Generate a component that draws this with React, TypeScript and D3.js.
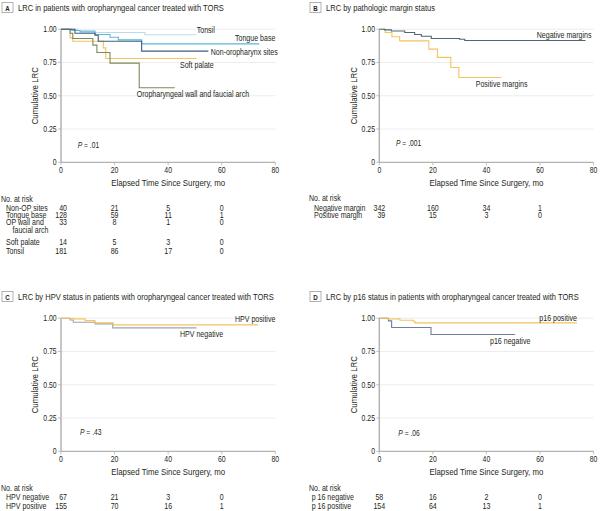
import React from "react";
import * as d3 from "d3";

// ---------- DATA ----------
const tickMonths = [0, 20, 40, 60, 80];
const tickValues = [0, 0.25, 0.5, 0.75, 1];
const tickValueLabels = ["0", "0.25", "0.50", "0.75", "1.00"];
const riskMonths = [0, 20, 40, 60];

// Panel A
const tonsil: [number, number][] = [[0, 1], [6.3, 0.99], [12.7, 0.975], [31.3, 0.958], [50.6, 0.958]];
const tongueBase: [number, number][] = [[0, 1], [4, 0.99], [7.1, 0.98], [12.7, 0.96], [18.3, 0.94], [21.4, 0.92], [30.1, 0.89], [74, 0.89]];
const nonOP: [number, number][] = [[0, 1], [5.2, 0.97], [12.7, 0.955], [13.9, 0.91], [30.1, 0.835], [55, 0.835]];
const softPalate: [number, number][] = [[0, 1], [3.4, 0.935], [4.4, 0.91], [15.8, 0.86], [16.7, 0.78], [50.6, 0.78]];
const opWall: [number, number][] = [[0, 1], [3.4, 0.97], [4.4, 0.93], [11.9, 0.88], [13.4, 0.825], [18.3, 0.745], [29.2, 0.56], [42.5, 0.56]];
const riskNonOP = [40, 21, 5, 0];
const riskTongue = [128, 59, 11, 1];
const riskOPWall = [33, 8, 1, 0];
const riskSoft = [14, 5, 3, 0];
const riskTonsil = [181, 86, 17, 0];

// Panel B
const negMargin: [number, number][] = [[0, 1], [2, 0.995], [4.5, 0.987], [9.5, 0.975], [13.2, 0.96], [15.7, 0.947], [19.4, 0.93], [30, 0.925], [31.9, 0.915], [77, 0.915]];
const posMargin: [number, number][] = [[0, 1], [2.2, 0.975], [4.7, 0.943], [7.6, 0.912], [18.5, 0.85], [21.7, 0.788], [26.7, 0.712], [29.7, 0.637], [45.6, 0.637]];
const riskNegMargin = [342, 160, 34, 1];
const riskPosMargin = [39, 15, 3, 0];

// Panel C
const hpvPos: [number, number][] = [[0, 1], [4.6, 0.995], [9, 0.982], [12.7, 0.965], [19.5, 0.95], [73.6, 0.95]];
const hpvNeg: [number, number][] = [[0, 1], [3.4, 0.987], [4.6, 0.97], [12.7, 0.957], [19.3, 0.927], [50.6, 0.927]];
const riskHpvNeg = [67, 21, 3, 0];
const riskHpvPos = [155, 70, 16, 1];

// Panel D
const p16Pos: [number, number][] = [[0, 1], [3.4, 0.995], [7.7, 0.985], [12.7, 0.977], [13.3, 0.965], [73.8, 0.965]];
const p16Neg: [number, number][] = [[0, 1], [3.4, 0.98], [4.6, 0.93], [19.3, 0.877], [50.7, 0.877]];
const riskP16Neg = [58, 16, 2, 0];
const riskP16Pos = [154, 64, 13, 1];

// ---------- STYLE ----------
const FONT = "'Liberation Sans', Arial, sans-serif";
const SX = 0.82; // horizontal condensing to mimic a narrow face
const TXT = "#231f20";
const C_TONSIL = "#b9dcec";
const C_TONGUE = "#5bb8de";
const C_NONOP = "#3f5d7c";
const C_SOFT = "#f2c462";
const C_OPWALL = "#7c8b56";
const C_NEG = "#4f6677";
const C_POS = "#f2c462";
const C_HPVNEG = "#9aa3b2";
const C_P16NEG = "#6f7f9c";

const FS_TITLE = 9.2;
const FS_AXIS = 9.6;
const FS_TICK = 8.4;
const FS_LABEL = 8.6;
const FS_TABLE = 8.6;
const FS_P = 8.2;

function T({
  x,
  y,
  size,
  anchor = "start",
  rotate = 0,
  weight,
  children,
}: {
  x: number;
  y: number;
  size: number;
  anchor?: string;
  rotate?: number;
  weight?: string;
  children: React.ReactNode;
}) {
  return (
    <text
      transform={`translate(${x},${y})${rotate ? ` rotate(${rotate})` : ""} scale(${SX},1)`}
      fontSize={size}
      textAnchor={anchor}
      fontWeight={weight}
    >
      {children}
    </text>
  );
}

type Series = { data: [number, number][]; color: string };
type Label = { text: string; x: number; y: number };
type Row = { label: string[]; values: number[]; y: number };

interface PanelProps {
  px: number;
  py: number;
  plotX: number;
  letter: string;
  title: string;
  series: Series[];
  labels: Label[];
  pText: string;
  pX: number;
  pY: number;
  riskY: number;
  rows: Row[];
  labelIndent?: number;
  firstColCentered?: boolean;
}

function Panel(p: PanelProps) {
  const x = d3.scaleLinear().domain([0, 80]).range([p.plotX, p.plotX + 214.3]);
  const y = d3.scaleLinear().domain([0, 1]).range([p.py + 162.3, p.py + 29.2]);
  const line = d3
    .line<[number, number]>()
    .x((d) => x(d[0]))
    .y((d) => y(d[1]))
    .curve(d3.curveStepAfter);
  const axisColor = "#b3b3b3";
  const [x0, x1] = x.range();
  const yb = y(0);
  const indent = p.labelIndent ?? 6;
  return (
    <g fontFamily={FONT} fill={TXT}>
      {/* title */}
      <rect x={p.px + 2} y={p.py + 2.5} width={11} height={10} fill="#fff" stroke="#a0a0a0" strokeWidth={0.8} />
      <T x={p.px + 7.5} y={p.py + 10.5} size={7.5} anchor="middle" weight="bold">
        {p.letter}
      </T>
      <T x={p.px + 18} y={p.py + 10.5} size={FS_TITLE}>
        {p.title}
      </T>
      {/* grid */}
      {tickValues.slice(1).map((v) => (
        <line key={"g" + v} x1={x0} x2={x1} y1={y(v)} y2={y(v)} stroke="#e8e8e8" strokeWidth={0.8} />
      ))}
      {/* axes */}
      <line x1={x0} x2={x1} y1={yb} y2={yb} stroke={axisColor} strokeWidth={1.2} />
      <line x1={x0} x2={x0} y1={y(1)} y2={yb} stroke={axisColor} strokeWidth={1.5} />
      {tickValues.map((v, i) => (
        <g key={"yt" + v}>
          <line x1={x0 - 3} x2={x0} y1={y(v)} y2={y(v)} stroke={axisColor} strokeWidth={0.8} />
          <T x={x0 - 4.3} y={y(v) + 3} size={FS_TICK} anchor="end">
            {tickValueLabels[i]}
          </T>
        </g>
      ))}
      {tickMonths.map((m) => (
        <g key={"xt" + m}>
          <line x1={x(m)} x2={x(m)} y1={yb} y2={yb + 3} stroke={axisColor} strokeWidth={0.8} />
          <T x={x(m)} y={yb + 11} size={FS_TICK} anchor="middle">
            {m}
          </T>
        </g>
      ))}
      <T x={(x0 + x1) / 2} y={yb + 23.9} size={FS_AXIS} anchor="middle">
        Elapsed Time Since Surgery, mo
      </T>
      <T x={x0 - 22.6} y={(y(1) + yb) / 2} size={FS_AXIS} anchor="middle" rotate={-90}>
        Cumulative LRC
      </T>
      {/* curves */}
      {p.series.map((s, i) => (
        <path key={"s" + i} d={line(s.data) || ""} fill="none" stroke={s.color} strokeWidth={1.1} />
      ))}
      {/* labels */}
      {p.labels.map((l, i) => (
        <T key={"l" + i} x={l.x} y={l.y} size={FS_LABEL}>
          {l.text}
        </T>
      ))}
      <T x={p.pX} y={p.pY} size={FS_P}>
        <tspan fontStyle="italic">P</tspan> = {p.pText}
      </T>
      {/* risk table */}
      <T x={p.px + 1} y={p.riskY} size={FS_TABLE}>
        No. at risk
      </T>
      {p.rows.map((r, i) => (
        <g key={"r" + i}>
          {r.label.map((t, j) => (
            <T key={j} x={p.px + indent + j * 6.5} y={r.y + j * 7.4} size={FS_TABLE}>
              {t}
            </T>
          ))}
          {r.values.map((v, j) => {
            const right = j === 0 && !p.firstColCentered;
            return (
              <T
                key={"v" + j}
                x={right ? x(riskMonths[j]) + 6 : x(riskMonths[j])}
                y={r.y}
                size={FS_TABLE}
                anchor={right ? "end" : "middle"}
              >
                {v}
              </T>
            );
          })}
        </g>
      ))}
    </g>
  );
}

export default function App() {
  return (
    <svg
      width={600}
      height={511}
      viewBox="0 0 600 511"
      style={{ position: "absolute", left: 0, top: 0, background: "#fff" }}
    >
      <rect width={600} height={511} fill="#fff" />
      <Panel
        px={0}
        py={0}
        plotX={61}
        letter="A"
        title="LRC in patients with oropharyngeal cancer treated with TORS"
        series={[
          { data: tonsil, color: C_TONSIL },
          { data: tongueBase, color: C_TONGUE },
          { data: softPalate, color: C_SOFT },
          { data: opWall, color: C_OPWALL },
          { data: nonOP, color: C_NONOP },
        ]}
        labels={[
          { text: "Tonsil", x: 196.7, y: 33 },
          { text: "Tongue base", x: 235, y: 41 },
          { text: "Non-oropharynx sites", x: 210.7, y: 54.7 },
          { text: "Soft palate", x: 180, y: 68 },
          { text: "Oropharyngeal wall and faucial arch", x: 136.7, y: 97.3 },
        ]}
        pText=".01"
        pX={77.7}
        pY={148.1}
        riskY={202.1}
        rows={[
          { label: ["Non-OP sites"], values: riskNonOP, y: 210.8 },
          { label: ["Tongue base"], values: riskTongue, y: 218.1 },
          { label: ["OP wall and", "faucial arch"], values: riskOPWall, y: 225.4 },
          { label: ["Soft palate"], values: riskSoft, y: 245.1 },
          { label: ["Tonsil"], values: riskTonsil, y: 254.1 },
        ]}
      />
      <Panel
        px={308}
        py={0}
        plotX={379.3}
        letter="B"
        title="LRC by pathologic margin status"
        series={[
          { data: posMargin, color: C_POS },
          { data: negMargin, color: C_NEG },
        ]}
        labels={[
          { text: "Negative margins", x: 536.7, y: 37.7 },
          { text: "Positive margins", x: 475.7, y: 87 },
        ]}
        pText=".001"
        pX={396}
        pY={145.8}
        riskY={201.4}
        rows={[
          { label: ["Negative margin"], values: riskNegMargin, y: 210.8 },
          { label: ["Positive margin"], values: riskPosMargin, y: 218.1 },
        ]}
      />
      <Panel
        px={0}
        py={289}
        plotX={61}
        letter="C"
        title="LRC by HPV status in patients with oropharyngeal cancer treated with TORS"
        series={[
          { data: hpvNeg, color: C_HPVNEG },
          { data: hpvPos, color: C_POS },
        ]}
        labels={[
          { text: "HPV positive", x: 235, y: 322.3 },
          { text: "HPV negative", x: 180, y: 337.3 },
        ]}
        pText=".43"
        pX={80}
        pY={434.5}
        riskY={490.8}
        rows={[
          { label: ["HPV negative"], values: riskHpvNeg, y: 499.8 },
          { label: ["HPV positive"], values: riskHpvPos, y: 508.8 },
        ]}
      />
      <Panel
        px={308}
        py={289}
        plotX={379.3}
        letter="D"
        title="LRC by p16 status in patients with oropharyngeal cancer treated with TORS"
        series={[
          { data: p16Neg, color: C_P16NEG },
          { data: p16Pos, color: C_POS },
        ]}
        labels={[
          { text: "p16 positive", x: 539.3, y: 320.7 },
          { text: "p16 negative", x: 490, y: 343.7 },
        ]}
        pText=".06"
        pX={398.3}
        pY={436.1}
        riskY={490.8}
        labelIndent={3.7}
        firstColCentered={true}
        rows={[
          { label: ["p 16 negative"], values: riskP16Neg, y: 499.8 },
          { label: ["p 16 positive"], values: riskP16Pos, y: 508.8 },
        ]}
      />
    </svg>
  );
}
